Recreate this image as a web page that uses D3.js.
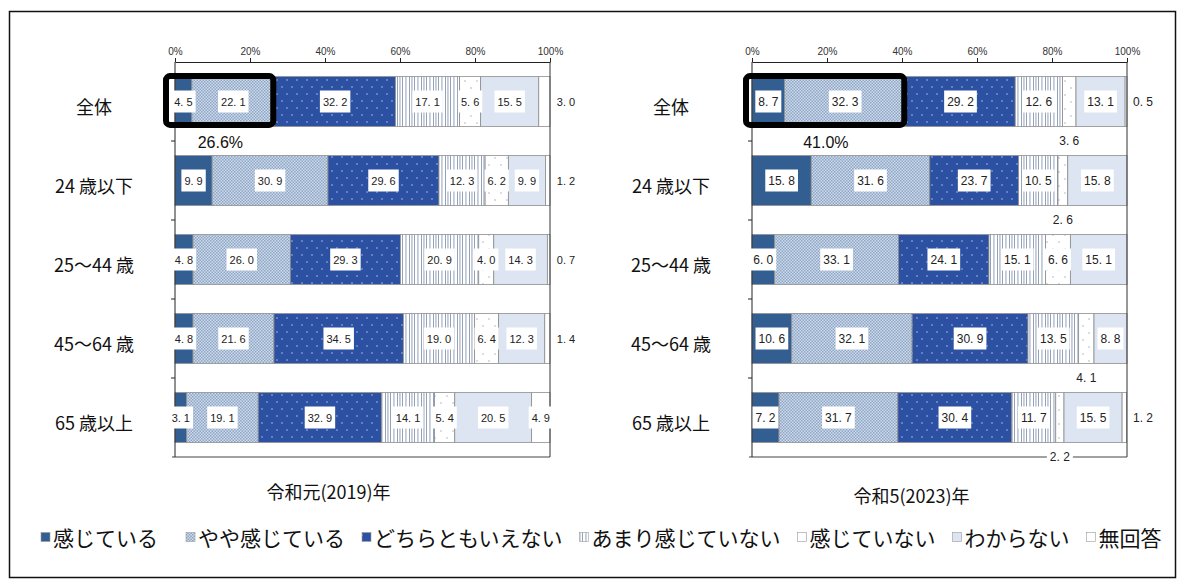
<!DOCTYPE html>
<html>
<head>
<meta charset="utf-8">
<script src="https://cdn.jsdelivr.net/npm/d3@7"></script>
<style>
  body { margin: 0; background: #fff; }
  svg { display: block; }
</style>
</head>
<body>
<script>
// data
var categories = ['全体', '24 歳以下', '25～44 歳', '45～64 歳', '65 歳以上'];
var answers = ['感じている', 'やや感じている', 'どちらともいえない', 'あまり感じていない', '感じていない', 'わからない', '無回答'];
var tickValues = [0, 20, 40, 60, 80, 100];
var values2019 = [
    [4.5, 22.1, 32.2, 17.1, 5.6, 15.5, 3.0],
    [9.9, 30.9, 29.6, 12.3, 6.2, 9.9, 1.2],
    [4.8, 26.0, 29.3, 20.9, 4.0, 14.3, 0.7],
    [4.8, 21.6, 34.5, 19.0, 6.4, 12.3, 1.4],
    [3.1, 19.1, 32.9, 14.1, 5.4, 20.5, 4.9]
];
var values2023 = [
    [8.7, 32.3, 29.2, 12.6, 3.6, 13.1, 0.5],
    [15.8, 31.6, 23.7, 10.5, 2.6, 15.8, 0],
    [6.0, 33.1, 24.1, 15.1, 6.6, 15.1, 0],
    [10.6, 32.1, 30.9, 13.5, 4.1, 8.8, 0],
    [7.2, 31.7, 30.4, 11.7, 2.2, 15.5, 1.2]
];
var titles = ['令和元(2019)年', '令和5(2023)年'];

var W = 1185, H = 588;
var svg = d3.select('body').append('svg').attr('width', W).attr('height', H);

// outer frame
svg.append('rect')
    .attr('x', 9.5).attr('y', 11.5).attr('width', 1166).attr('height', 566)
    .attr('fill', 'none').attr('stroke', '#111').attr('stroke-width', 1.5);

// patterns
var defs = svg.append('defs');
function pattern(id, w, h, bg) {
    var p = defs.append('pattern').attr('id', id)
        .attr('patternUnits', 'userSpaceOnUse').attr('width', w).attr('height', h);
    p.append('rect').attr('width', w).attr('height', h).attr('fill', bg);
    return p;
}
var p1 = pattern('p1', 3, 3, '#cfdbea');
p1.append('rect').attr('width', 1.5).attr('height', 1.5).attr('fill', '#8ea6c6');
p1.append('rect').attr('x', 1.5).attr('y', 1.5).attr('width', 1.5).attr('height', 1.5).attr('fill', '#8ea6c6');

var p2 = pattern('p2', 10, 14, '#2c51a3');
p2.append('circle').attr('cx', 2).attr('cy', 3).attr('r', 0.8).attr('fill', '#a9bce6');
p2.append('circle').attr('cx', 7).attr('cy', 10).attr('r', 0.8).attr('fill', '#a9bce6');

var p3 = pattern('p3', 12, 12, '#fff');
[1, 3.5, 6, 9.5].forEach(function(v) {
    p3.append('rect').attr('x', v).attr('width', 0.9).attr('height', 12).attr('fill', '#8797b3');
});

var p4 = pattern('p4', 12, 14, '#fff');
p4.append('circle').attr('cx', 3).attr('cy', 4).attr('r', 0.7).attr('fill', '#9aa3b5');
p4.append('circle').attr('cx', 9).attr('cy', 11).attr('r', 0.7).attr('fill', '#9aa3b5');

var fills = ['#335e92', 'url(#p1)', 'url(#p2)', 'url(#p3)', 'url(#p4)', '#dce5f1', '#fff'];

var fmt = function(v) { return d3.format('.1f')(v).replace('.', '. '); };

var charts = [
    { values: values2019, title: titles[0], x0: 175, titleDx: -34, titleY: 491, labelSize: 11, below: false, boxDx: -9 },
    { values: values2023, title: titles[1], x0: 752, titleDx: -28, titleY: 495, labelSize: 12, below: true, boxDx: -6 }
];

function valueLabel(g, cx, cy, txt, size, box) {
    var lg = g.append('g');
    var r = lg.append('rect').attr('fill', '#fff');
    var t = lg.append('text')
        .attr('x', cx).attr('y', cy)
        .attr('text-anchor', 'middle').attr('dominant-baseline', 'central')
        .attr('font-family', 'Liberation Sans, Arial, sans-serif')
        .attr('font-size', size).attr('fill', '#222')
        .text(txt);
    var w = t.node().getComputedTextLength();
    if (box) {
        r.attr('x', cx - w / 2 - 3).attr('y', cy - 11).attr('width', w + 6).attr('height', 22);
    } else {
        r.remove();
    }
}

charts.forEach(function(c) {
    var x = d3.scaleLinear().domain([0, 100]).range([c.x0, c.x0 + 375]);
    var y = d3.scaleBand().domain(categories).range([62, 457])
        .paddingInner(0.37).paddingOuter(0.185);
    var bw = y.bandwidth();
    var gap = y.step() - bw;
    var g = svg.append('g');

    var series = d3.stack()
        .keys(d3.range(answers.length))
        .value(function(d, k) { return d[k]; })(c.values);

    // bars
    g.selectAll('g.series')
        .data(series)
        .join('g')
        .attr('class', 'series')
        .attr('fill', function(d, i) { return fills[i]; })
        .selectAll('rect')
        .data(function(d) { return d; })
        .join('rect')
        .attr('x', function(d) { return x(d[0]); })
        .attr('y', function(d, j) { return y(categories[j]); })
        .attr('width', function(d) { return x(d[1]) - x(d[0]); })
        .attr('height', bw)
        .attr('stroke', '#8c8c8c')
        .attr('stroke-width', 0.8);

    // plot frame
    g.append('line').attr('x1', x(100)).attr('x2', x(100)).attr('y1', 62).attr('y2', 457)
        .attr('stroke', '#333');
    g.append('line').attr('x1', x(0) - 3).attr('x2', x(100)).attr('y1', 457).attr('y2', 457)
        .attr('stroke', '#444').attr('stroke-width', 1.2);
    g.append('line').attr('x1', x(0)).attr('x2', x(0)).attr('y1', 62).attr('y2', 457)
        .attr('stroke', '#222');
    categories.slice(1).forEach(function(cat) {
        var yy = y(cat) - gap / 2;
        g.append('line').attr('x1', x(0) - 4).attr('x2', x(0)).attr('y1', yy).attr('y2', yy)
            .attr('stroke', '#222');
    });

    // top axis
    var ax = g.append('g')
        .attr('transform', 'translate(0,62)')
        .call(d3.axisTop(x).tickValues(tickValues)
            .tickFormat(function(d) { return d + '%'; })
            .tickSize(4).tickSizeOuter(0));
    ax.select('.domain').attr('stroke', '#222');
    ax.selectAll('.tick line').attr('stroke', '#222');
    ax.selectAll('.tick text')
        .attr('font-family', 'Liberation Sans Narrow, Liberation Sans, sans-serif')
        .attr('font-size', 10).attr('fill', '#333');

    // value labels
    series.forEach(function(s, k) {
        s.forEach(function(d, j) {
            var v = c.values[j][k];
            if (!v) return;
            var top = y(categories[j]);
            var cx = x((d[0] + d[1]) / 2);
            var cy = top + bw / 2;
            if (k === answers.length - 1 && v < 4) {
                valueLabel(g, x(100) + 16, cy, fmt(v), c.labelSize, false);
            } else if (c.below && k === 4 && v < 5) {
                valueLabel(g, cx, top + bw + gap / 2, fmt(v), c.labelSize, true);
            } else {
                valueLabel(g, cx, cy, fmt(v), c.labelSize, true);
            }
        });
    });

    // category labels
    g.selectAll('text.cat')
        .data(categories)
        .join('text')
        .attr('class', 'cat')
        .attr('x', x(0) - 81)
        .attr('y', function(d) { return y(d) + bw / 2 + 4; })
        .attr('text-anchor', 'middle').attr('dominant-baseline', 'central')
        .attr('font-family', 'Noto Sans CJK JP, sans-serif')
        .attr('font-size', 18).attr('fill', '#111')
        .text(function(d) { return d; });

    // highlight box for the first two answers of 全体
    var hi = c.values[0][0] + c.values[0][1];
    var y0 = y(categories[0]);
    g.append('rect')
        .attr('x', x(0) + c.boxDx).attr('y', y0 - 0.5)
        .attr('width', x(hi) - 1.5 - (x(0) + c.boxDx)).attr('height', bw - 1)
        .attr('rx', 4)
        .attr('fill', 'none').attr('stroke', '#000').attr('stroke-width', 6);
    g.append('text')
        .attr('x', (x(0) + c.boxDx + x(hi)) / 2).attr('y', y0 + bw + 16)
        .attr('text-anchor', 'middle').attr('dominant-baseline', 'central')
        .attr('font-family', 'Liberation Sans, Arial, sans-serif')
        .attr('font-size', 16).attr('fill', '#111')
        .text(d3.format('.1f')(hi) + '%');

    // title
    g.append('text')
        .attr('x', x(50) + c.titleDx).attr('y', c.titleY)
        .attr('text-anchor', 'middle').attr('dominant-baseline', 'central')
        .attr('font-family', 'Noto Sans CJK JP, sans-serif')
        .attr('font-size', 18).attr('fill', '#111')
        .text(c.title);
});

// legend
var lx = 41;
answers.forEach(function(a, i) {
    var lg = svg.append('g');
    lg.append('rect')
        .attr('x', lx).attr('y', 532.5).attr('width', 9).attr('height', 9)
        .attr('fill', fills[i]).attr('stroke', '#999').attr('stroke-width', 0.6);
    var t = lg.append('text')
        .attr('x', lx + 12).attr('y', 537)
        .attr('dominant-baseline', 'central')
        .attr('font-family', 'Noto Sans CJK JP, sans-serif')
        .attr('font-size', 21).attr('fill', '#111')
        .text(a);
    lx += 12 + t.node().getComputedTextLength() + (i === 0 ? 28 : 17);
});
</script>
</body>
</html>
